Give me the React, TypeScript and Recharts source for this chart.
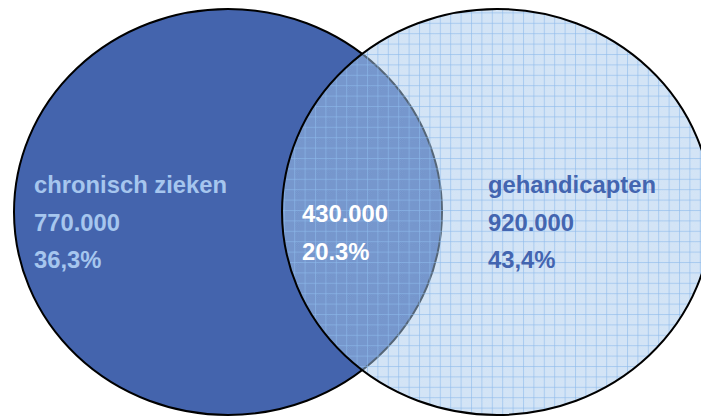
import { ScatterChart, Scatter, XAxis, YAxis } from 'recharts';

// sets and the overlap
const setNames = ['chronisch zieken', 'gehandicapten'];
const setCounts = ['770.000', '920.000'];
const setShares = ['36,3%', '43,4%'];
const overlapCount = '430.000';
const overlapShare = '20.3%';

// diagram layout (in chart units, 1 unit = 1px)
const W = 701;
const H = 418;
const circleX = [228, 497];
const circleY = [212, 212];
const circleRx = [214, 215];
const circleRy = [203, 203];

const circleData = circleX.map((x, i) => ({ x, y: circleY[i], i }));
const labelData = [
  { x: 34, y: 193, lines: [setNames[0], setCounts[0], setShares[0]], color: '#a6c6ee' },
  { x: 302, y: 222, lines: [overlapCount, overlapShare], color: '#ffffff' },
  { x: 488, y: 193, lines: [setNames[1], setCounts[1], setShares[1]], color: '#4365b0' },
];

const CircleShape = (props: any) => {
  const { cx, cy, payload } = props;
  const i = payload.i;
  return (
    <ellipse
      cx={cx}
      cy={cy}
      rx={circleRx[i]}
      ry={circleRy[i]}
      fill={i === 0 ? '#4464ad' : 'url(#gridFill)'}
      stroke="#000"
      strokeWidth={2}
    />
  );
};

const LabelShape = (props: any) => {
  const { cx, cy, payload } = props;
  return (
    <text
      x={cx}
      y={cy}
      fill={payload.color}
      fontFamily="'Liberation Sans', Arial, sans-serif"
      fontWeight="bold"
      fontSize={23.8}
    >
      {payload.lines.map((l: string, k: number) => (
        <tspan key={k} x={cx} y={cy + k * 37.5}>
          {l}
        </tspan>
      ))}
    </text>
  );
};

export default function App() {
  return (
    <div style={{ width: W, height: H, background: '#fff' }}>
      <style>{`body{margin:0}`}</style>
      <ScatterChart width={W} height={H} margin={{ top: 0, right: 0, bottom: 0, left: 0 }}>
        <defs>
          <pattern id="dots" width="2" height="2" patternUnits="userSpaceOnUse">
            <rect width="1" height="1" fill="rgba(255,255,255,0.12)" />
            <rect x="1" y="1" width="1" height="1" fill="rgba(255,255,255,0.12)" />
          </pattern>
          <pattern id="gridFill" width="10.4" height="10.4" patternUnits="userSpaceOnUse" x="3" y="2">
            <rect width="10.4" height="10.4" fill="rgba(155,194,234,0.47)" />
            <rect width="10.4" height="10.4" fill="url(#dots)" />
            <line x1="0" y1="0.5" x2="10.4" y2="0.5" stroke="rgba(140,185,235,0.6)" strokeWidth={1} />
            <line x1="0.5" y1="0" x2="0.5" y2="10.4" stroke="rgba(140,185,235,0.6)" strokeWidth={1} />
          </pattern>
        </defs>
        <XAxis type="number" dataKey="x" domain={[0, W]} hide />
        <YAxis type="number" dataKey="y" domain={[0, H]} reversed hide />
        <Scatter data={circleData} shape={CircleShape} isAnimationActive={false} />
        <Scatter data={labelData} shape={LabelShape} isAnimationActive={false} />
      </ScatterChart>
    </div>
  );
}
